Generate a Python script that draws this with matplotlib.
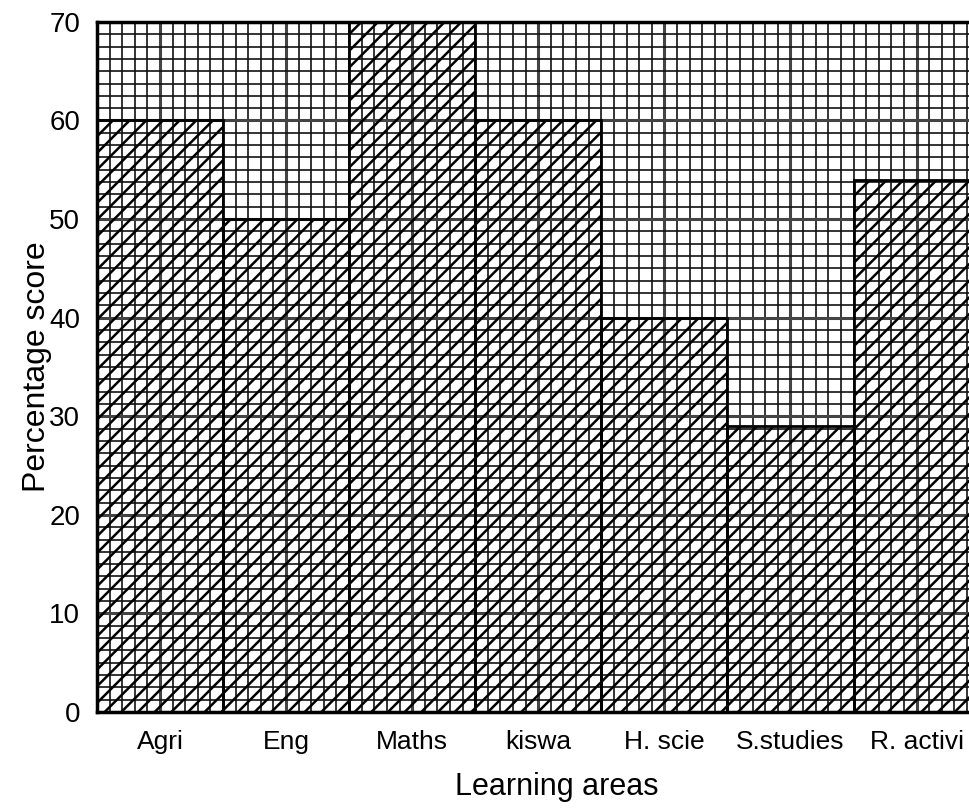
import matplotlib
matplotlib.use('Agg')
import matplotlib.pyplot as plt
from matplotlib.ticker import MultipleLocator

areas = ['Agri', 'Eng', 'Maths', 'kiswa', 'H. scie', 'S.studies', 'R. activi']
scores = [60, 50, 70, 60, 40, 29, 54]
yticks = [0, 10, 20, 30, 40, 50, 60, 70]

plt.rcParams['font.family'] = ['Liberation Sans', 'DejaVu Sans']
plt.rcParams['hatch.linewidth'] = 1.8

fig = plt.figure(figsize=(9.69, 8.11), dpi=100)
ax = fig.add_axes([0.100, 0.122, 0.95, 0.851])

pos = list(range(len(areas)))
ax.bar(pos, scores, width=1.0, facecolor='none', edgecolor='black',
       linewidth=2, hatch='//', zorder=3)

# graph paper grid
ax.yaxis.set_minor_locator(MultipleLocator(1.25))
ax.xaxis.set_minor_locator(MultipleLocator(0.1))
ax.grid(which='minor', color='#111111', linewidth=1.4, alpha=0.85, zorder=1)
ax.grid(which='major', color='#444444', linewidth=2.2, zorder=1)

ax.set_xlim(-0.5, 6.8)
ax.set_ylim(0, 70)
ax.set_yticks(yticks)
ax.set_xticks(pos)
ax.set_xticklabels(areas, fontsize=19)
ax.tick_params(axis='y', labelsize=20, length=0, pad=12)
ax.tick_params(axis='x', length=0, pad=13)
ax.tick_params(which='minor', length=0)
for s in ax.spines.values():
    s.set_linewidth(2.5)

ax.set_xlabel('Learning areas', fontsize=22, labelpad=13)
ax.set_ylabel('Percentage score', fontsize=23, labelpad=-2)

fig.savefig('out.png', dpi=100)
